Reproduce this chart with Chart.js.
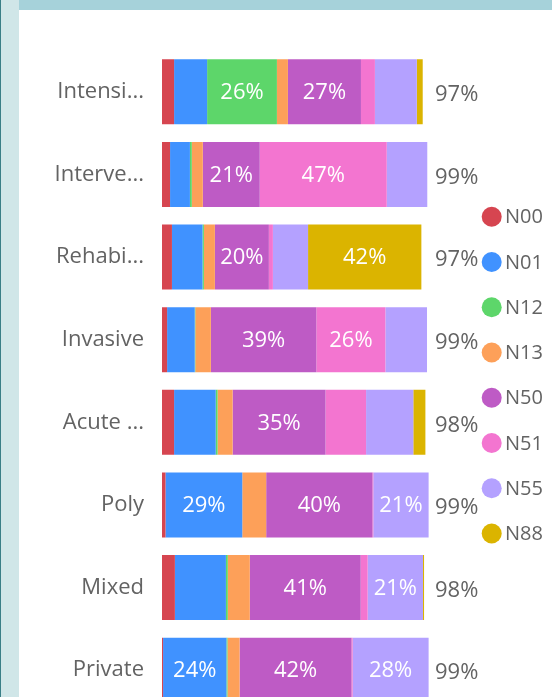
<!DOCTYPE html>
<html>
<head>
<meta charset="utf-8">
<script src="https://cdn.jsdelivr.net/npm/chart.js@4/dist/chart.umd.min.js"></script>
<style>
  html, body { margin:0; padding:0; width:552px; height:697px; overflow:hidden; background:#ffffff; }
  #leftline { position:absolute; left:0; top:0; width:1px; height:697px; background:#3a7f87; }
  #leftband { position:absolute; left:1px; top:0; width:18px; height:697px; background:#d0e6e8; }
  #topband { position:absolute; left:19px; top:0; width:533px; height:10px; background:#a6d2da; }
  #wrap { position:absolute; left:19px; top:10px; width:533px; height:760px; }
</style>
</head>
<body>
<div id="leftline"></div>
<div id="leftband"></div>
<div id="topband"></div>
<div id="wrap"><canvas id="c" width="533" height="760"></canvas></div>
<script>
const categories = ["Intensi...", "Interve...", "Rehabi...", "Invasive", "Acute ...", "Poly", "Mixed", "Private"];
const seriesNames = ["N00", "N01", "N12", "N13", "N50", "N51", "N55", "N88"];
const N00 = [4.5, 3.0, 3.7, 1.9, 4.5, 1.3, 4.8, 0.4];
const N01 = [12.3, 7.4, 11.4, 10.3, 15.5, 28.6, 19.0, 23.6];
const N12 = [26.0, 0.7, 0.5, 0.2, 0.7, 0, 0.7, 0.4];
const N13 = [4.1, 4.1, 4.1, 5.8, 5.6, 8.9, 8.2, 4.5];
const N50 = [27.2, 21.2, 20.1, 39.3, 34.6, 39.6, 41.3, 41.7];
const N51 = [5.2, 47.3, 1.5, 25.7, 15.1, 0.3, 2.6, 0.4];
const N55 = [15.6, 15.1, 13.1, 15.5, 17.6, 20.6, 20.6, 28.3];
const N88 = [2.2, 0, 42.2, 0, 4.5, 0, 0.4, 0];
const seriesValues = [N00, N01, N12, N13, N50, N51, N55, N88];
const colors = ["#d64550", "#4092ff", "#5dd66a", "#fda059", "#be5bc5", "#f375d0", "#b4a1ff", "#dbb400"];

const FONT = "'Open Sans', 'Noto Sans', sans-serif";
const GREY = "#636363";

const segLabels = {
  id: 'segLabels',
  afterDatasetsDraw(chart) {
    const ctx = chart.ctx;
    ctx.save();
    ctx.font = "22px " + FONT;
    ctx.fillStyle = "#ffffff";
    ctx.textAlign = "center";
    ctx.textBaseline = "middle";
    chart.data.datasets.forEach((ds, di) => {
      const meta = chart.getDatasetMeta(di);
      meta.data.forEach((el, i) => {
        const v = ds.data[i];
        if (Math.round(v) >= 20) {
          ctx.fillText(Math.round(v) + "%", (el.x + el.base) / 2, el.y + 1);
        }
      });
    });
    // totals
    ctx.fillStyle = GREY;
    ctx.textAlign = "left";
    const ca = chart.chartArea;
    const yScale = chart.scales.y;
    categories.forEach((c, i) => {
      let sum = 0;
      chart.data.datasets.forEach(ds => sum += ds.data[i]);
      ctx.fillText(Math.round(sum) + "%", ca.right + 4.5, yScale.getPixelForValue(i) + 3);
    });
    // legend
    ctx.font = "20px " + FONT;
    chart.data.datasets.forEach((ds, di) => {
      const cy = 206.7 + di * 45.25;
      ctx.beginPath();
      ctx.fillStyle = ds.backgroundColor;
      ctx.arc(472.7, cy, 10, 0, Math.PI * 2);
      ctx.fill();
      ctx.fillStyle = GREY;
      ctx.fillText(ds.label, 486, cy + 1);
    });
    ctx.restore();
  }
};

new Chart(document.getElementById('c'), {
  type: 'bar',
  data: {
    labels: categories,
    datasets: seriesNames.map((n, i) => ({
      label: n,
      data: seriesValues[i],
      backgroundColor: colors[i],
      borderWidth: 0,
      categoryPercentage: 1,
      barPercentage: 0.787
    }))
  },
  options: {
    indexAxis: 'y',
    responsive: false,
    animation: false,
    layout: { padding: { left: 0, right: 121.5, top: 40.5, bottom: 58.5 } },
    plugins: { legend: { display: false }, tooltip: { enabled: false } },
    scales: {
      x: { stacked: true, min: 0, max: 100, display: false },
      y: {
        stacked: true,
        grid: { display: false, drawTicks: false },
        border: { display: false },
        ticks: { color: GREY, font: { family: FONT, size: 22 }, padding: 18 },
        afterFit(scale) { scale.width = 143; }
      }
    }
  },
  plugins: [segLabels]
});
</script>
</body>
</html>
